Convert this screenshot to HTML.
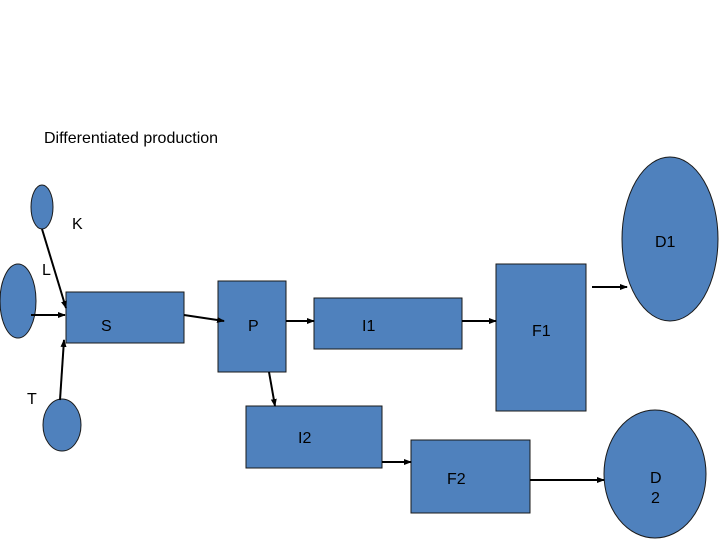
<!DOCTYPE html>
<html><head><meta charset="utf-8"><style>
html,body{margin:0;padding:0;background:#fff;}
svg{display:block;}
text{font-family:"Liberation Sans",Arial,sans-serif;font-size:16px;fill:#000;}
</style></head><body>
<svg width="720" height="540" viewBox="0 0 720 540" xmlns="http://www.w3.org/2000/svg">
<defs><marker id="a" markerWidth="8" markerHeight="8" refX="7" refY="4" orient="auto" markerUnits="userSpaceOnUse"><path d="M0,1 L8,4 L0,7 Z" fill="#000"/></marker></defs>
<g fill="#4f81bd" stroke="#1a1a1a" stroke-width="1">
<ellipse cx="42" cy="207" rx="11" ry="22"/>
<ellipse cx="18" cy="301" rx="18" ry="37"/>
<ellipse cx="62" cy="425" rx="19" ry="26"/>
<ellipse cx="670" cy="239" rx="48" ry="82"/>
<ellipse cx="655" cy="474" rx="51" ry="64"/>
<rect x="66" y="292" width="118" height="51"/>
<rect x="218" y="281" width="68" height="91"/>
<rect x="314" y="298" width="148" height="51"/>
<rect x="496" y="264" width="90" height="147"/>
<rect x="246" y="406" width="136" height="62"/>
<rect x="411" y="440" width="119" height="73"/>
</g>
<g stroke="#000" stroke-width="2" marker-end="url(#a)">
<line x1="42" y1="229" x2="66" y2="308"/>
<line x1="31" y1="315" x2="65" y2="315"/>
<line x1="60" y1="400" x2="64" y2="340"/>
<line x1="184" y1="315" x2="224" y2="321"/>
<line x1="286" y1="321" x2="314" y2="321"/>
<line x1="462" y1="321" x2="496" y2="321"/>
<line x1="269" y1="372" x2="275" y2="406"/>
<line x1="382" y1="462" x2="411" y2="462"/>
<line x1="530" y1="480" x2="604" y2="480"/>
<line x1="592" y1="287" x2="627" y2="287"/>
</g>
<text x="44" y="143">Differentiated production</text>
<text x="72" y="229">K</text>
<text x="655" y="247">D1</text>
<text x="42" y="275">L</text>
<text x="101" y="331">S</text>
<text x="248" y="331">P</text>
<text x="362" y="331">I1</text>
<text x="532" y="336">F1</text>
<text x="27" y="404">T</text>
<text x="298" y="443">I2</text>
<text x="447" y="484">F2</text>
<text x="650" y="483">D</text>
<text x="651" y="503">2</text>
</svg>
</body></html>
